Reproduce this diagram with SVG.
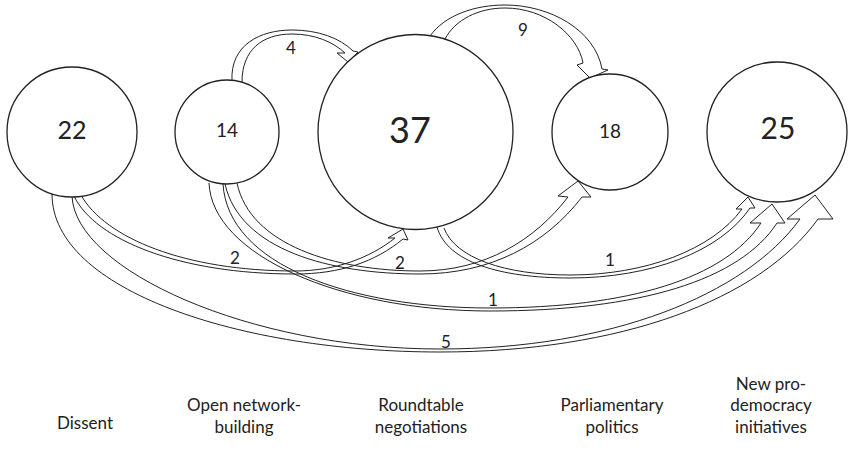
<svg xmlns="http://www.w3.org/2000/svg" width="848" height="460" viewBox="0 0 848 460">
<style>
.node{fill:#fff;stroke:#222;stroke-width:1.3}
.arr{fill:none;stroke:#222;stroke-width:1;stroke-linejoin:miter}
.num{font-family:Lato,"Open Sans",sans-serif;fill:#222;text-anchor:middle}
.lab{font-family:Lato,"Open Sans",sans-serif;font-size:17px;fill:#222;text-anchor:middle}
</style>
<rect width="848" height="460" fill="#fff"/>
<g id="connectors">
<!-- 14 -> 37 (4) -->
<path class="arr" d="M232,81 C230,45 260,30 292,30 C318,30 340,38 353,51 L358,52 L348,62 L337,53 L345,53 C333,42 315,34 292,34 C262,34 242,50 242,82"/>
<!-- 37 -> 18 (9) -->
<path class="arr" d="M430,36 C445,15 475,5 505,5 C550,5 595,30 602,69 L608,70 L590,78 L577,65 L583,63 C578,35 545,8 505,8 C478,8 455,20 445,39"/>
<!-- Dissent -> 37 (2) -->
<path class="arr" d="M74,196 C95,240 180,274 295,274 C340,274 375,262 403,239 L408,240 L403,229 L388,238 L395,238 C370,258 335,271 295,271 C185,271 105,238 81,195"/>
<!-- 14 -> 18 (2) -->
<path class="arr" d="M225,184 C240,250 330,274 420,274 C490,274 545,245 582,197 L591,197 L578,181 L558,196 L568,197 C535,240 485,271 420,271 C335,271 250,245 237,183"/>
<!-- 37 -> 25 (1) -->
<path class="arr" d="M437,227 C447,262 500,278 570,278 C650,278 720,252 750,208 L755,208 L748,197 L736,209 L742,209 C712,250 645,275 570,275 C505,275 455,258 444,228"/>
<!-- 14 -> 25 (1) -->
<path class="arr" d="M209,183 C212,255 340,311 490,311 C640,311 740,280 777,223 L785,223 L772,204 L750,223 L761,223 C725,278 630,308 490,308 C350,308 228,265 223,184"/>
<!-- Dissent -> 25 (5) -->
<path class="arr" d="M52,194 C52,290 240,352 440,352 C620,352 760,300 818,219 L833,219 L815,195 L787,219 L800,219 C745,295 610,349 440,349 C250,349 75,270 72,196"/>
<text class="num" x="291" y="54" font-size="17">4</text>
<text class="num" x="523" y="36" font-size="17">9</text>
<text class="num" x="235" y="264" font-size="17">2</text>
<text class="num" x="400" y="269" font-size="17">2</text>
<text class="num" x="610" y="266" font-size="17">1</text>
<text class="num" x="493" y="306" font-size="17">1</text>
<text class="num" x="446" y="348" font-size="17">5</text>
</g>
<g id="n22">
<circle class="node" cx="72" cy="132" r="65"/>
<text class="num" x="72" y="139" font-size="25">22</text>
<text class="lab" x="85" y="429">Dissent</text>
</g>
<g id="n14">
<circle class="node" cx="227" cy="132" r="52"/>
<text class="num" x="227" y="137" font-size="19">14</text>
<text class="lab" x="244" y="411">Open network-</text>
<text class="lab" x="244" y="433">building</text>
</g>
<g id="n37">
<circle class="node" cx="415.5" cy="132" r="97.5"/>
<text class="num" x="410" y="143" font-size="36">37</text>
<text class="lab" x="421" y="411">Roundtable</text>
<text class="lab" x="421" y="433">negotiations</text>
</g>
<g id="n18">
<circle class="node" cx="610" cy="132" r="58"/>
<text class="num" x="610" y="138" font-size="19">18</text>
<text class="lab" x="612" y="411">Parliamentary</text>
<text class="lab" x="612" y="433">politics</text>
</g>
<g id="n25">
<circle class="node" cx="777" cy="132" r="70"/>
<text class="num" x="778" y="139" font-size="30">25</text>
<text class="lab" x="771" y="390">New pro-</text>
<text class="lab" x="771" y="411">democracy</text>
<text class="lab" x="771" y="433">initiatives</text>
</g>
</svg>
